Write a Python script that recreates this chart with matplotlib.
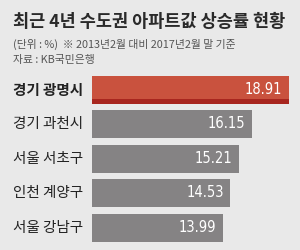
import matplotlib
matplotlib.use("Agg")
import matplotlib.pyplot as plt
import matplotlib.transforms as mtransforms

plt.rcParams['font.family'] = ['Noto Sans CJK KR', 'DejaVu Sans']

# data
regions = ['경기 광명시', '경기 과천시', '서울 서초구', '인천 계양구', '서울 강남구']
rates = [18.91, 16.15, 15.21, 14.53, 13.99]
highlight = 0

title = '최근 4년 수도권 아파트값 상승률 현황'
note1 = '(단위 : %)  ※ 2013년2월 대비 2017년2월 말 기준'
note2 = '자료 : KB국민은행'

bg = '#e9e9e9'
red = '#c9523e'
red_dark = '#a8261f'
gray = '#858384'

fig = plt.figure(figsize=(3.0, 2.5), dpi=100)
fig.patch.set_facecolor(bg)

W, H = 300.0, 250.0
left_px, top_px, bot_px = 92, 72.5, 245
ax = fig.add_axes([left_px / W, 1 - bot_px / H, 1 - left_px / W, (bot_px - top_px) / H])
ax.set_facecolor(bg)

ypos = list(range(len(regions)))
colors = [red if i == highlight else gray for i in ypos]
bh = 0.81
ax.barh(ypos, rates, height=bh, color=colors, edgecolor='none')
# darker strip along the bottom of the highlighted bar
sh = 0.13
ax.barh(ypos[highlight] + bh / 2 - sh / 2, rates[highlight], height=sh,
        color=red_dark, edgecolor='none')

ax.set_xlim(4.2, 19.73)
ax.set_ylim(len(regions) - 0.5, -0.5)
ax.axis('off')

trans = mtransforms.blended_transform_factory(fig.transFigure, ax.transData)
for i, (name, v) in enumerate(zip(regions, rates)):
    ax.text(13 / W, i, name, transform=trans, ha='left', va='center',
            fontsize=10.5, color='#222222',
            fontweight='bold' if i == highlight else 'normal', clip_on=False)
    ax.text(v - 0.5, i - 0.02, f'{v:.2f}', ha='right', va='center',
            fontsize=10.5, color='white', family='DejaVu Sans',
            fontstretch='condensed')

fig.text(13 / W, 1 - 22 / H, title, ha='left', va='center',
         fontsize=12.6, fontweight='bold', color='#2a2a2a')
fig.text(13 / W, 1 - 44 / H, note1, ha='left', va='center',
         fontsize=7.8, color='#555555')
fig.text(13 / W, 1 - 60 / H, note2, ha='left', va='center',
         fontsize=7.8, color='#555555')

fig.savefig('out.png', dpi=100, facecolor=bg)
